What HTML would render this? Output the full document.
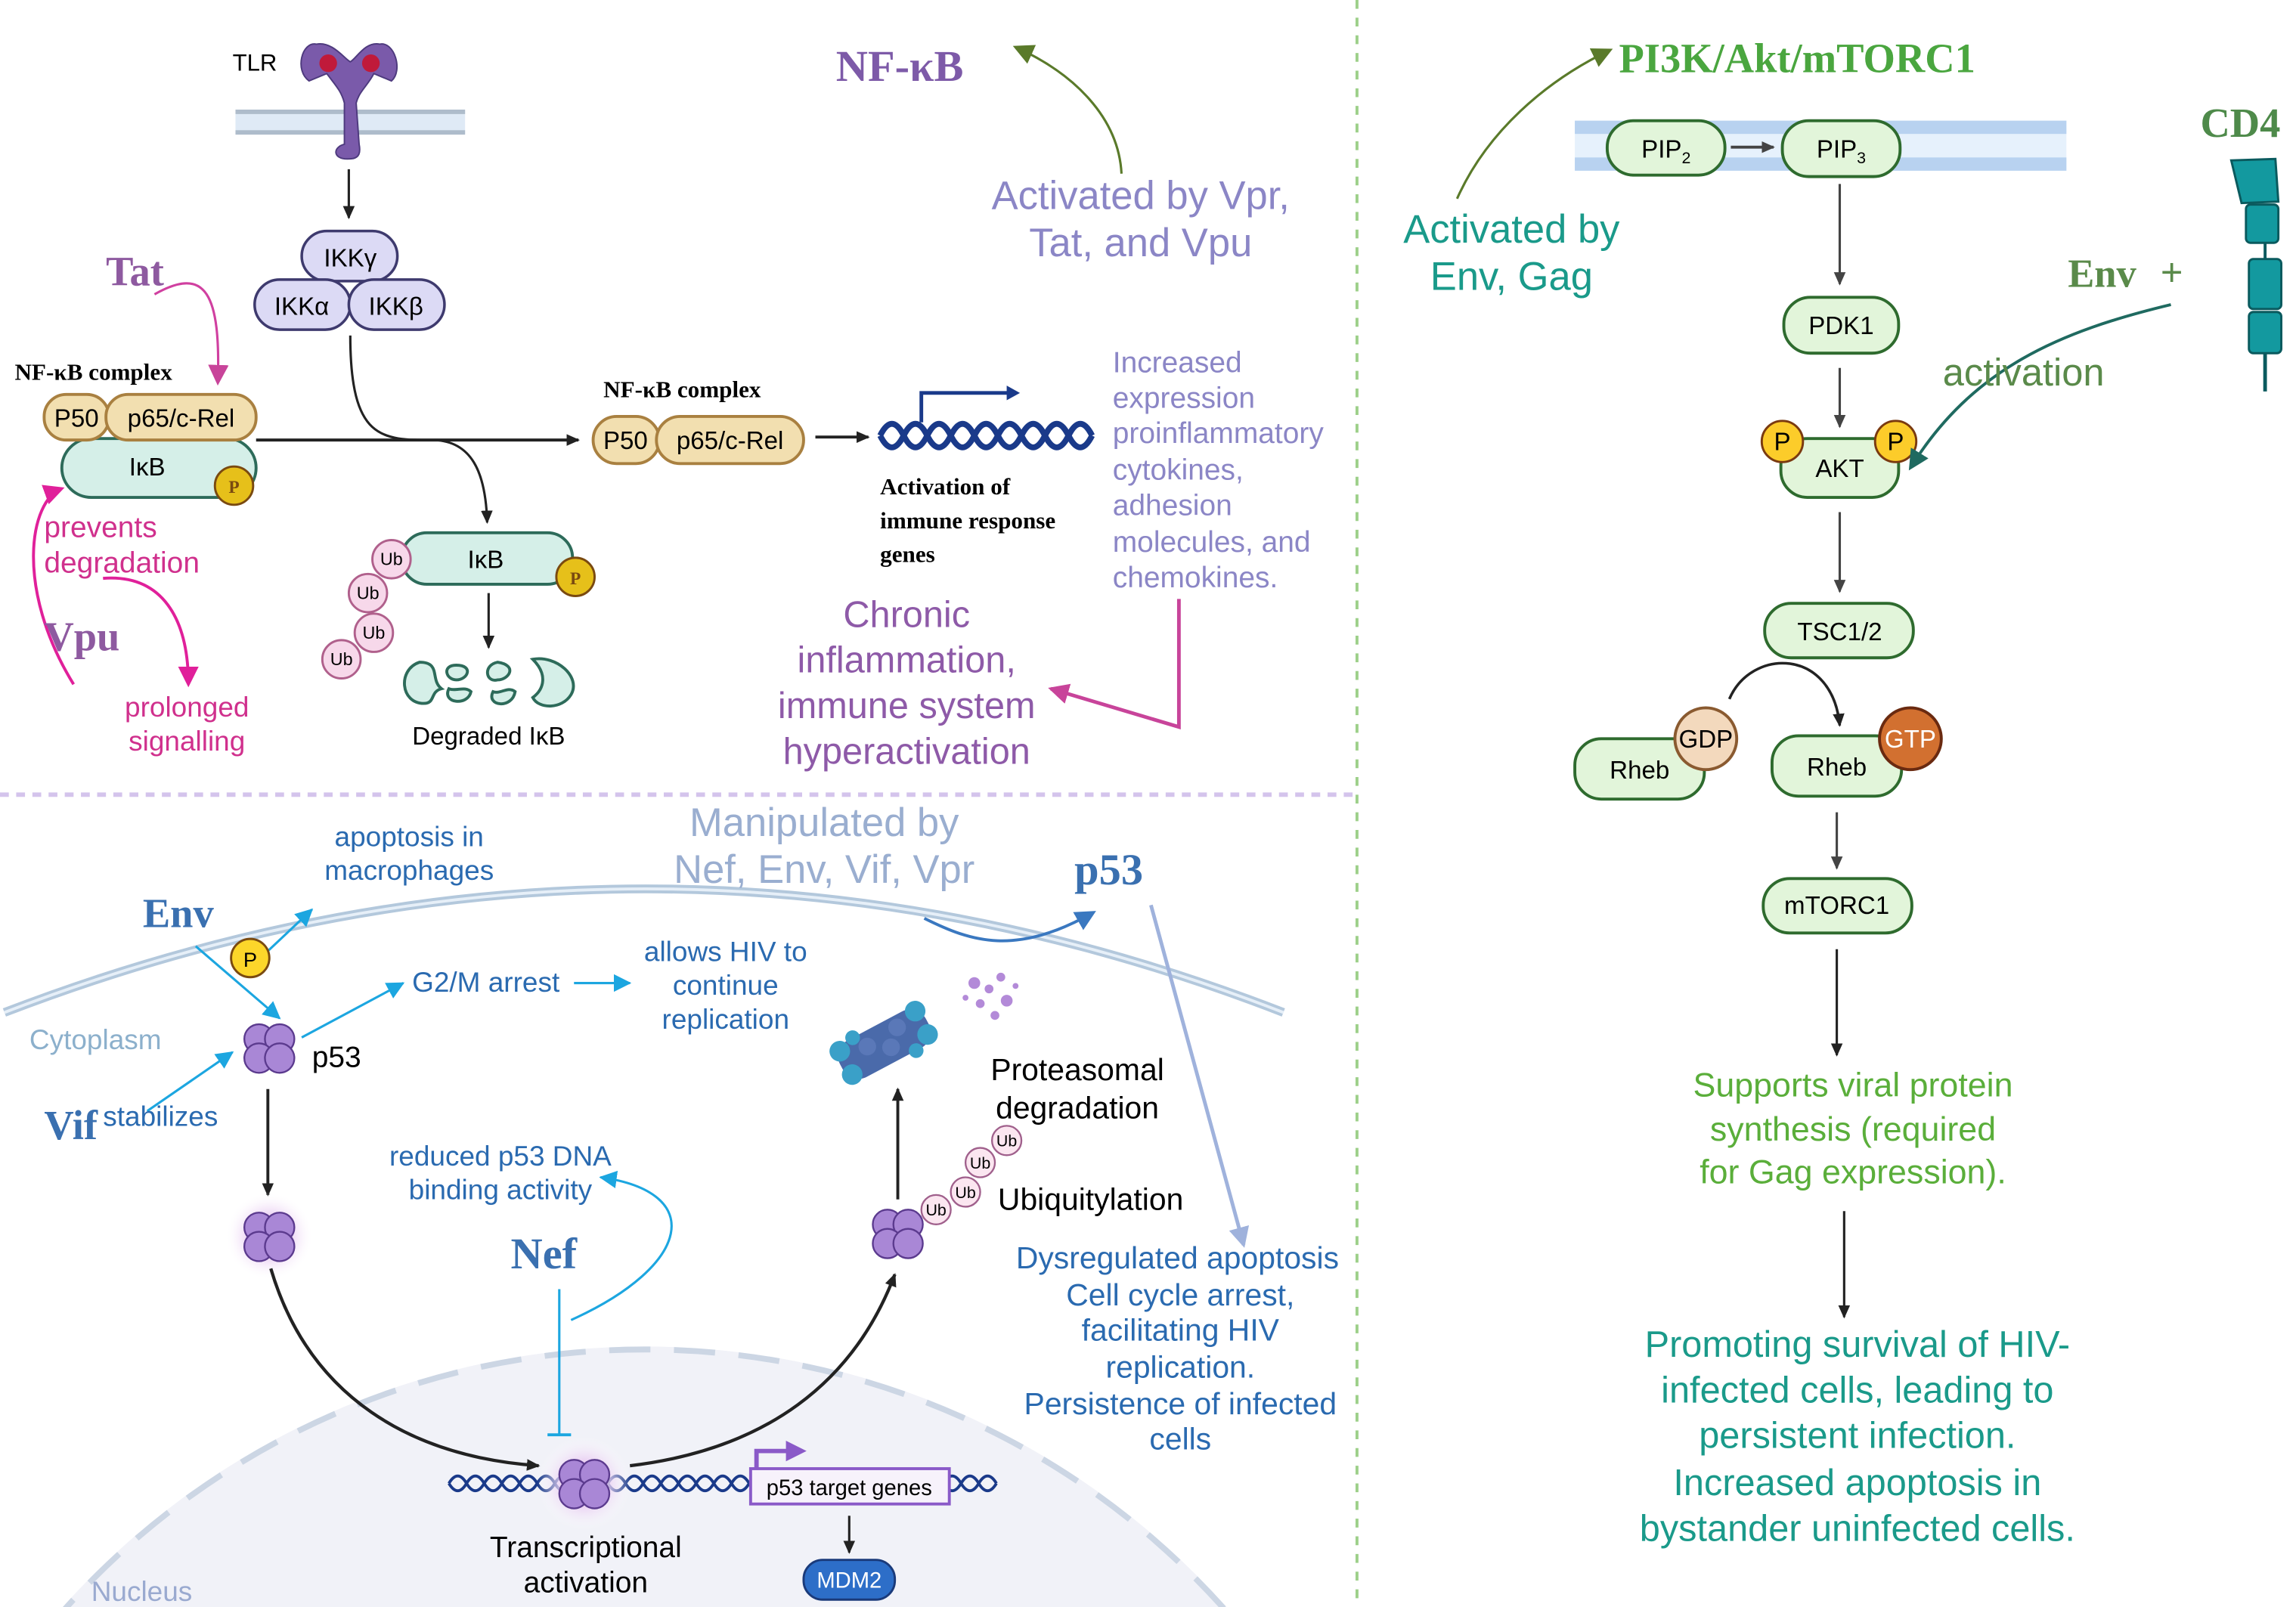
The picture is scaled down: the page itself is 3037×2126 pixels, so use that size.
<!DOCTYPE html>
<html><head><meta charset="utf-8"><style>
html,body{margin:0;padding:0;background:#fff;overflow:hidden;width:3037px;height:2126px;}
svg{display:block;}
text{font-family:"Liberation Sans",sans-serif;}
.serif{font-family:"Liberation Serif",serif;font-weight:bold;}
</style></head><body>
<svg width="3037" height="2126" viewBox="0 0 1560 1092" preserveAspectRatio="none" xmlns="http://www.w3.org/2000/svg">
<defs>
<clipPath id="clipall"><rect x="0" y="0" width="1560" height="1092"/></clipPath>
<marker id="ak" markerWidth="10" markerHeight="10" refX="8" refY="5" orient="auto" markerUnits="userSpaceOnUse"><path d="M0,1 L9,5 L0,9z" fill="#222"/></marker>
<marker id="ag" markerWidth="10" markerHeight="10" refX="8" refY="5" orient="auto" markerUnits="userSpaceOnUse"><path d="M0,1 L9,5 L0,9z" fill="#444"/></marker>
<marker id="am" markerWidth="16" markerHeight="16" refX="12" refY="8" orient="auto" markerUnits="userSpaceOnUse"><path d="M0,1 L14,8 L0,15z" fill="#e0209a"/></marker>
<marker id="ap" markerWidth="16" markerHeight="16" refX="12" refY="8" orient="auto" markerUnits="userSpaceOnUse"><path d="M0,1 L14,8 L0,15z" fill="#c8449a"/></marker>
<marker id="agr" markerWidth="16" markerHeight="16" refX="12" refY="8" orient="auto" markerUnits="userSpaceOnUse"><path d="M0,1 L14,8 L0,15z" fill="#5a7a2a"/></marker>
<marker id="at" markerWidth="16" markerHeight="16" refX="12" refY="8" orient="auto" markerUnits="userSpaceOnUse"><path d="M0,1 L14,8 L0,15z" fill="#1f6a60"/></marker>
<marker id="ac" markerWidth="14" markerHeight="14" refX="11" refY="7" orient="auto" markerUnits="userSpaceOnUse"><path d="M0,1 L12,7 L0,13z" fill="#1ca6e0"/></marker>
<marker id="ab" markerWidth="16" markerHeight="16" refX="12" refY="8" orient="auto" markerUnits="userSpaceOnUse"><path d="M0,1 L14,8 L0,15z" fill="#3a78c0"/></marker>
<marker id="alb" markerWidth="16" markerHeight="16" refX="12" refY="8" orient="auto" markerUnits="userSpaceOnUse"><path d="M0,1 L14,8 L0,15z" fill="#9fb2dc"/></marker>
<marker id="apu" markerWidth="16" markerHeight="16" refX="6" refY="8" orient="auto" markerUnits="userSpaceOnUse"><path d="M0,1 L14,8 L0,15z" fill="#8a5ac8"/></marker>
<radialGradient id="glow"><stop offset="0.4" stop-color="#e6c6f0"/><stop offset="1" stop-color="#fff" stop-opacity="0"/></radialGradient>
<g id="p53c"><circle cx="-7" cy="-6" r="10" fill="#a987d6" stroke="#5b3a8e" stroke-width="1.2"/><circle cx="7" cy="-6" r="10" fill="#a987d6" stroke="#5b3a8e" stroke-width="1.2"/><circle cx="-7" cy="7" r="10" fill="#a987d6" stroke="#5b3a8e" stroke-width="1.2"/><circle cx="7" cy="7" r="10" fill="#a987d6" stroke="#5b3a8e" stroke-width="1.2"/></g>
</defs>
<g clip-path="url(#clipall)">
<line x1="922" y1="0" x2="922" y2="1092" stroke="#9ed08a" stroke-width="2" stroke-dasharray="6,6"/>
<line x1="0" y1="540" x2="920" y2="540" stroke="#d4c4ec" stroke-width="3" stroke-dasharray="6,5"/>

<text x="158" y="48" font-size="16">TLR</text>
<rect x="160" y="75" width="156" height="16" fill="#dfeaf6"/>
<line x1="160" y1="76" x2="316" y2="76" stroke="#aebccb" stroke-width="3"/>
<line x1="160" y1="90" x2="316" y2="90" stroke="#aebccb" stroke-width="3"/>
<path d="M215,30 C205,28 200,48 210,55 L222,50 C228,58 232,62 234,70 L234,98 C226,100 226,108 236,108 C240,108 246,108 244,98 L242,70 C244,62 250,58 254,50 L266,55 C274,48 268,28 258,30 C248,28 242,40 238,42 C234,40 226,28 215,30z" fill="#7a5aaa" stroke="#4e3a7e" stroke-width="1"/>
<circle cx="223" cy="43" r="6" fill="#c01a3a"/><circle cx="252" cy="43" r="6" fill="#c01a3a"/>
<line x1="237" y1="115" x2="237" y2="148" stroke="#222" stroke-width="1.6" marker-end="url(#ak)"/>
<g fill="#dcdaf5" stroke="#3e3a6e" stroke-width="1.8">
<rect x="205" y="157" width="65" height="34" rx="17"/>
<rect x="173" y="190" width="65" height="34" rx="17"/>
<rect x="237" y="190" width="65" height="34" rx="17"/>
</g>
<text x="238" y="181" font-size="17" text-anchor="middle">IKKγ</text>
<text x="205" y="214" font-size="17" text-anchor="middle">IKKα</text>
<text x="269" y="214" font-size="17" text-anchor="middle">IKKβ</text>

<text x="72" y="194" class="serif" font-size="28" fill="#8e5aa0">Tat</text>
<path d="M105,200 C140,180 150,200 148,260" fill="none" stroke="#d040a0" stroke-width="1.6" marker-end="url(#ap)"/>
<text x="10" y="258" class="serif" font-size="16">NF-κB complex</text>
<rect x="42" y="298" width="132" height="40" rx="20" fill="#d5efe8" stroke="#2d6b5a" stroke-width="2"/>
<text x="100" y="323" font-size="17" text-anchor="middle">IκB</text>
<rect x="30" y="268" width="44" height="31" rx="15" fill="#f2dfb0" stroke="#a98040" stroke-width="2"/>
<rect x="72" y="268" width="102" height="31" rx="15" fill="#f2dfb0" stroke="#a98040" stroke-width="2"/>
<text x="52" y="290" font-size="17" text-anchor="middle">P50</text>
<text x="123" y="290" font-size="17" text-anchor="middle">p65/c-Rel</text>
<circle cx="159" cy="330" r="13" fill="#e6c01a" stroke="#7a4a10" stroke-width="1.5"/>
<text x="159" y="335" font-size="12" class="serif" text-anchor="middle" fill="#7a4a10">P</text>

<line x1="174" y1="299" x2="393" y2="299" stroke="#222" stroke-width="2" marker-end="url(#ak)"/>
<path d="M238,228 C238,300 260,299 295,299 C320,300 330,320 331,355" fill="none" stroke="#222" stroke-width="1.6" marker-end="url(#ak)"/>

<path d="M50,465 C10,400 20,340 42,332" fill="none" stroke="#e0209a" stroke-width="2" marker-end="url(#am)"/>
<text x="30" y="365" font-size="20" fill="#d0308d">prevents</text>
<text x="30" y="389" font-size="20" fill="#d0308d">degradation</text>
<path d="M70,393 C110,390 128,420 128,465" fill="none" stroke="#e0209a" stroke-width="2" marker-end="url(#am)"/>
<text x="30" y="442" class="serif" font-size="28" fill="#8e5aa0">Vpu</text>
<text x="127" y="487" font-size="19" fill="#d0308d" text-anchor="middle">prolonged</text>
<text x="127" y="510" font-size="19" fill="#d0308d" text-anchor="middle">signalling</text>

<rect x="273" y="362" width="116" height="35" rx="17" fill="#d5efe8" stroke="#2d6b5a" stroke-width="2"/>
<text x="330" y="386" font-size="17" text-anchor="middle">IκB</text>
<circle cx="391" cy="392" r="13" fill="#e6c01a" stroke="#7a4a10" stroke-width="1.5"/>
<text x="391" y="397" font-size="12" class="serif" text-anchor="middle" fill="#7a4a10">P</text>
<g fill="#f7d8ea" stroke="#b0608c" stroke-width="1.5">
<circle cx="266" cy="380" r="13"/><circle cx="250" cy="403" r="13"/><circle cx="254" cy="430" r="13"/><circle cx="232" cy="448" r="13"/></g>
<g font-size="12" text-anchor="middle"><text x="266" y="384">Ub</text><text x="250" y="407">Ub</text><text x="254" y="434">Ub</text><text x="232" y="452">Ub</text></g>
<line x1="332" y1="403" x2="332" y2="440" stroke="#222" stroke-width="1.6" marker-end="url(#ak)"/>
<g fill="#d5efe8" stroke="#2d6b5a" stroke-width="2">
<path d="M285,450 C270,455 272,478 288,478 C296,478 292,470 300,468 C292,462 300,450 285,450z"/>
<path d="M310,452 C300,452 303,462 310,462 C318,462 322,452 310,452z M305,468 C300,478 318,480 320,470 C316,466 310,470 305,468z"/>
<path d="M338,450 C328,452 330,464 338,462 C346,462 352,452 338,450z M335,470 C330,480 348,482 350,470 C345,466 340,472 335,470z"/>
<path d="M362,448 C378,445 395,460 388,472 C382,482 366,482 362,474 C370,468 372,458 362,448z"/>
</g>
<text x="332" y="506" font-size="17" text-anchor="middle">Degraded IκB</text>

<text x="410" y="270" class="serif" font-size="16">NF-κB complex</text>
<rect x="403" y="283" width="45" height="32" rx="16" fill="#f2dfb0" stroke="#a98040" stroke-width="2"/>
<rect x="446" y="283" width="100" height="32" rx="16" fill="#f2dfb0" stroke="#a98040" stroke-width="2"/>
<text x="425" y="305" font-size="17" text-anchor="middle">P50</text>
<text x="496" y="305" font-size="17" text-anchor="middle">p65/c-Rel</text>
<line x1="554" y1="297" x2="590" y2="297" stroke="#222" stroke-width="2" marker-end="url(#ak)"/>
<path d="M598,296 q8,-16 16,0 t16,0 t16,0 t16,0 t16,0 t16,0 t16,0 t16,0 t16,0" fill="none" stroke="#1a3a8a" stroke-width="4"/>
<path d="M598,296 q8,16 16,0 t16,0 t16,0 t16,0 t16,0 t16,0 t16,0 t16,0 t16,0" fill="none" stroke="#1a3a8a" stroke-width="4"/>
<path d="M626,287 L626,267 L688,267" fill="none" stroke="#1a3a8a" stroke-width="2.5"/>
<path d="M684,262 L693,267 L684,272z" fill="#1a3a8a"/>
<text x="598" y="336" class="serif" font-size="16">Activation of</text>
<text x="598" y="359" class="serif" font-size="16">immune response</text>
<text x="598" y="382" class="serif" font-size="16">genes</text>
<g font-size="20" fill="#8b86c6">
<text x="756" y="253">Increased</text><text x="756" y="277">expression</text><text x="756" y="301">proinflammatory</text><text x="756" y="326">cytokines,</text><text x="756" y="350">adhesion</text><text x="756" y="375">molecules, and</text><text x="756" y="399">chemokines.</text></g>
<path d="M801,407 L801,494 L714,468" fill="none" stroke="#c8449a" stroke-width="2.5" marker-end="url(#ap)"/>
<g font-size="25" fill="#8e5aa8" text-anchor="middle">
<text x="616" y="426">Chronic</text><text x="616" y="457">inflammation,</text><text x="616" y="488">immune system</text><text x="616" y="519">hyperactivation</text></g>
<text x="568" y="55" class="serif" font-size="30" fill="#7d5aa8">NF-κB</text>
<path d="M762,118 C760,80 730,50 690,32" fill="none" stroke="#5a7a2a" stroke-width="1.6" marker-end="url(#agr)"/>
<g font-size="27" fill="#8b86c6" text-anchor="middle"><text x="775" y="142">Activated by Vpr,</text><text x="775" y="174">Tat, and Vpu</text></g>

<text x="1100" y="49" class="serif" font-size="28" fill="#4aa63f">PI3K/Akt/mTORC1</text>
<path d="M990,135 C1010,90 1050,55 1094,34" fill="none" stroke="#5a7a2a" stroke-width="1.6" marker-end="url(#agr)"/>
<rect x="1070" y="82" width="334" height="34" fill="#e6f1fc"/>
<rect x="1070" y="82" width="334" height="9" fill="#b8d2f0"/>
<rect x="1070" y="107" width="334" height="9" fill="#b8d2f0"/>
<g fill="#e2f5da" stroke="#2e6b2e" stroke-width="2">
<rect x="1092" y="82" width="80" height="37" rx="18"/><rect x="1211" y="82" width="80" height="38" rx="18"/>
<rect x="1212" y="202" width="78" height="38" rx="18"/>
<rect x="1210" y="298" width="80" height="40" rx="18"/>
<rect x="1199" y="410" width="101" height="37" rx="18"/>
<rect x="1070" y="502" width="88" height="41" rx="18"/>
<rect x="1204" y="500" width="88" height="41" rx="18"/>
<rect x="1198" y="597" width="101" height="37" rx="18"/></g>
<text x="1132" y="107" font-size="17" text-anchor="middle">PIP<tspan font-size="11" dy="4">2</tspan></text>
<text x="1251" y="107" font-size="17" text-anchor="middle">PIP<tspan font-size="11" dy="4">3</tspan></text>
<line x1="1176" y1="100" x2="1205" y2="100" stroke="#444" stroke-width="2" marker-end="url(#ag)"/>
<line x1="1250" y1="125" x2="1250" y2="193" stroke="#444" stroke-width="1.6" marker-end="url(#ag)"/>
<text x="1251" y="227" font-size="17" text-anchor="middle">PDK1</text>
<line x1="1250" y1="250" x2="1250" y2="290" stroke="#444" stroke-width="1.6" marker-end="url(#ag)"/>
<text x="1250" y="324" font-size="17" text-anchor="middle">AKT</text>
<g fill="#fccc2a" stroke="#7a3a10" stroke-width="1.5"><circle cx="1211" cy="300" r="14"/><circle cx="1288" cy="300" r="14"/></g>
<text x="1211" y="306" font-size="17" text-anchor="middle">P</text><text x="1288" y="306" font-size="17" text-anchor="middle">P</text>
<line x1="1250" y1="348" x2="1250" y2="402" stroke="#444" stroke-width="1.6" marker-end="url(#ag)"/>
<text x="1250" y="435" font-size="17" text-anchor="middle">TSC1/2</text>
<path d="M1175,475 C1190,440 1245,440 1250,493" fill="none" stroke="#222" stroke-width="1.8" marker-end="url(#ak)"/>
<text x="1114" y="529" font-size="17" text-anchor="middle">Rheb</text>
<text x="1248" y="527" font-size="17" text-anchor="middle">Rheb</text>
<circle cx="1159" cy="502" r="21" fill="#f3d9bd" stroke="#8a5a30" stroke-width="2"/>
<text x="1159" y="508" font-size="17" text-anchor="middle">GDP</text>
<circle cx="1298" cy="502" r="21" fill="#d27030" stroke="#6a2a10" stroke-width="2"/>
<text x="1298" y="508" font-size="17" text-anchor="middle" fill="#fff">GTP</text>
<line x1="1248" y1="552" x2="1248" y2="590" stroke="#444" stroke-width="1.6" marker-end="url(#ag)"/>
<text x="1248" y="621" font-size="17" text-anchor="middle">mTORC1</text>
<line x1="1248" y1="645" x2="1248" y2="717" stroke="#222" stroke-width="1.6" marker-end="url(#ak)"/>
<g font-size="23" fill="#5aae3a" text-anchor="middle"><text x="1259" y="745">Supports viral protein</text><text x="1259" y="775">synthesis (required</text><text x="1259" y="804">for Gag expression).</text></g>
<line x1="1253" y1="823" x2="1253" y2="895" stroke="#222" stroke-width="1.6" marker-end="url(#ak)"/>
<g font-size="25" fill="#1a9a8a" text-anchor="middle"><text x="1262" y="922">Promoting survival of HIV-</text><text x="1262" y="953">infected cells, leading to</text><text x="1262" y="984">persistent infection.</text><text x="1262" y="1016">Increased apoptosis in</text><text x="1262" y="1047">bystander uninfected cells.</text></g>
<g font-size="27" fill="#1a9a8a" text-anchor="middle"><text x="1027" y="165">Activated by</text><text x="1027" y="197">Env, Gag</text></g>
<text x="1495" y="93" class="serif" font-size="28" fill="#4e8a4a">CD4</text>
<g fill="#13999f" stroke="#0a5a5e" stroke-width="1.5">
<path d="M1516,109 L1546,108 L1548,137 L1523,138z"/>
<rect x="1526" y="139" width="22" height="26" rx="3"/>
<rect x="1528" y="176" width="22" height="34" rx="3"/>
<rect x="1528" y="212" width="22" height="28" rx="3"/></g>
<line x1="1539" y1="165" x2="1539" y2="176" stroke="#0a5a5e" stroke-width="2"/>
<line x1="1539" y1="240" x2="1539" y2="266" stroke="#0a5a5e" stroke-width="2.5"/>
<text x="1405" y="195" class="serif" font-size="27" fill="#5a8a4a">Env</text>
<text x="1468" y="194" font-size="26" fill="#5a8a4a">+</text>
<path d="M1475,207 C1400,225 1340,250 1298,318" fill="none" stroke="#1f6a60" stroke-width="2" marker-end="url(#at)"/>
<text x="1320" y="262" font-size="26" fill="#5a8a4a">activation</text>

<path d="M438,1445 m-530,0 a530,530 0 1,1 1060,0" fill="#f1f2f8" stroke="none"/>
<circle cx="438" cy="1445" r="528" fill="none" stroke="#ccd6e4" stroke-width="4" stroke-dasharray="28,16"/>
<path d="M3,688 Q440,520 872,688" fill="none" stroke="#b3c8dc" stroke-width="6"/>
<path d="M3,688 Q440,520 872,688" fill="none" stroke="#e6eff8" stroke-width="2"/>
<g font-size="27" fill="#9aaed0" text-anchor="middle"><text x="560" y="568">Manipulated by</text><text x="560" y="600">Nef, Env, Vif, Vpr</text></g>
<text x="730" y="601" class="serif" font-size="30" fill="#3a70b0">p53</text>
<path d="M628,624 C660,640 690,650 743,620" fill="none" stroke="#3a78c0" stroke-width="2" marker-end="url(#ab)"/>
<line x1="782" y1="615" x2="845" y2="846" stroke="#9fb2dc" stroke-width="2.5" marker-end="url(#alb)"/>
<g font-size="19" fill="#2a6ab0" text-anchor="middle"><text x="278" y="575">apoptosis in</text><text x="278" y="598">macrophages</text></g>
<text x="97" y="630" class="serif" font-size="28" fill="#3a70b0">Env</text>
<g stroke="#1ca6e0" stroke-width="1.6" fill="none">
<line x1="133" y1="643" x2="190" y2="692" marker-end="url(#ac)"/>
<line x1="178" y1="650" x2="212" y2="618" marker-end="url(#ac)"/>
<line x1="205" y1="705" x2="274" y2="668" marker-end="url(#ac)"/>
<line x1="390" y1="668" x2="428" y2="668" marker-end="url(#ac)"/>
<line x1="100" y1="755" x2="158" y2="715" marker-end="url(#ac)"/>
<path d="M388,897 C470,860 480,810 408,800" marker-end="url(#ac)"/>
</g>
<circle cx="170" cy="651" r="13" fill="#fcd62a" stroke="#7a4a10" stroke-width="1.5"/>
<text x="170" y="657" font-size="14" text-anchor="middle">P</text>
<text x="280" y="674" font-size="19" fill="#2a6ab0">G2/M arrest</text>
<g font-size="19" fill="#2a6ab0" text-anchor="middle"><text x="493" y="653">allows HIV to</text><text x="493" y="676">continue</text><text x="493" y="699">replication</text></g>
<text x="20" y="713" font-size="19" fill="#8cb0cc">Cytoplasm</text>
<use href="#p53c" x="183" y="712"/>
<text x="212" y="725" font-size="20">p53</text>
<text x="30" y="774" class="serif" font-size="28" fill="#3a70b0">Vif</text>
<text x="70" y="765" font-size="19" fill="#2a6ab0">stabilizes</text>
<line x1="182" y1="740" x2="182" y2="812" stroke="#222" stroke-width="2" marker-end="url(#ak)"/>
<circle cx="183" cy="840" r="30" fill="url(#glow)"/>
<use href="#p53c" x="183" y="840"/>
<path d="M184,862 C210,950 280,990 366,996" fill="none" stroke="#222" stroke-width="2.2" marker-end="url(#ak)"/>
<path d="M428,996 C520,985 580,940 608,866" fill="none" stroke="#222" stroke-width="2.2" marker-end="url(#ak)"/>
<g font-size="19" fill="#2a6ab0" text-anchor="middle"><text x="340" y="792">reduced p53 DNA</text><text x="340" y="815">binding activity</text></g>
<text x="347" y="862" class="serif" font-size="30" fill="#3a70b0">Nef</text>
<line x1="380" y1="876" x2="380" y2="975" stroke="#1ca6e0" stroke-width="1.6"/>
<line x1="372" y1="975" x2="388" y2="975" stroke="#1ca6e0" stroke-width="2"/>
<path d="M305,1008 q6,-10 12,0 t12,0 t12,0 t12,0 t12,0 t12,0 t12,0 t12,0 t12,0 t12,0 t12,0 t12,0 t12,0 t12,0 t12,0 t12,0 t12,0 t12,0 t12,0 t12,0 t12,0 t12,0 t12,0 t12,0 t12,0 t12,0 t12,0 t12,0 t12,0 t12,0 t12,0" fill="none" stroke="#1a3a8a" stroke-width="2"/>
<path d="M305,1008 q6,10 12,0 t12,0 t12,0 t12,0 t12,0 t12,0 t12,0 t12,0 t12,0 t12,0 t12,0 t12,0 t12,0 t12,0 t12,0 t12,0 t12,0 t12,0 t12,0 t12,0 t12,0 t12,0 t12,0 t12,0 t12,0 t12,0 t12,0 t12,0 t12,0 t12,0 t12,0" fill="none" stroke="#1a3a8a" stroke-width="2"/>
<circle cx="397" cy="1008" r="32" fill="url(#glow)"/>
<use href="#p53c" x="397" y="1008"/>
<rect x="510" y="998" width="135" height="24" fill="#f7f2fb" stroke="#8a5ac8" stroke-width="2"/>
<text x="577" y="1016" font-size="15" text-anchor="middle">p53 target genes</text>
<path d="M514,998 L514,986 L540,986" fill="none" stroke="#8a5ac8" stroke-width="3" marker-end="url(#apu)"/>
<g font-size="20" text-anchor="middle"><text x="398" y="1058">Transcriptional</text><text x="398" y="1082">activation</text></g>
<line x1="577" y1="1030" x2="577" y2="1055" stroke="#222" stroke-width="1.6" marker-end="url(#ak)"/>
<rect x="546" y="1060" width="62" height="27" rx="13" fill="#2d6ec8" stroke="#1a3a7a" stroke-width="1.5"/>
<text x="577" y="1079" font-size="15" text-anchor="middle" fill="#fff">MDM2</text>
<text x="62" y="1088" font-size="19" fill="#9aaad0">Nucleus</text>
<g transform="rotate(-28 600 710)">
<rect x="568" y="696" width="66" height="28" rx="12" fill="#4a6aaa"/>
<g fill="#3aa0c8"><circle cx="572" cy="700" r="7"/><circle cx="572" cy="718" r="7"/><circle cx="630" cy="700" r="7"/><circle cx="630" cy="718" r="7"/><circle cx="584" cy="696" r="5"/><circle cx="618" cy="724" r="5"/></g>
<g fill="#5a78b8"><circle cx="590" cy="706" r="6"/><circle cx="604" cy="714" r="6"/><circle cx="614" cy="704" r="6"/></g></g>
<g fill="#b38ad8"><circle cx="662" cy="668" r="4"/><circle cx="672" cy="672" r="3"/><circle cx="680" cy="664" r="3"/><circle cx="666" cy="682" r="3"/><circle cx="684" cy="680" r="4"/><circle cx="676" cy="690" r="3"/><circle cx="690" cy="670" r="2"/><circle cx="656" cy="678" r="2"/></g>
<g font-size="21" text-anchor="middle"><text x="732" y="734">Proteasomal</text><text x="732" y="760">degradation</text></g>
<line x1="610" y1="815" x2="610" y2="740" stroke="#222" stroke-width="2" marker-end="url(#ak)"/>
<g fill="#fbe6f0" stroke="#a0608c" stroke-width="1.2"><circle cx="684" cy="775" r="10"/><circle cx="666" cy="790" r="10"/><circle cx="656" cy="810" r="10"/><circle cx="636" cy="822" r="10"/></g>
<g font-size="11" text-anchor="middle"><text x="684" y="779">Ub</text><text x="666" y="794">Ub</text><text x="656" y="814">Ub</text><text x="636" y="826">Ub</text></g>
<text x="678" y="822" font-size="21">Ubiquitylation</text>
<use href="#p53c" x="610" y="838"/>
<g font-size="21" fill="#2a6ab0" text-anchor="middle"><text x="800" y="862">Dysregulated apoptosis</text><text x="802" y="887">Cell cycle arrest,</text><text x="802" y="911">facilitating HIV</text><text x="802" y="936">replication.</text><text x="802" y="961">Persistence of infected</text><text x="802" y="985">cells</text></g>
</g>
</svg>
</body></html>
